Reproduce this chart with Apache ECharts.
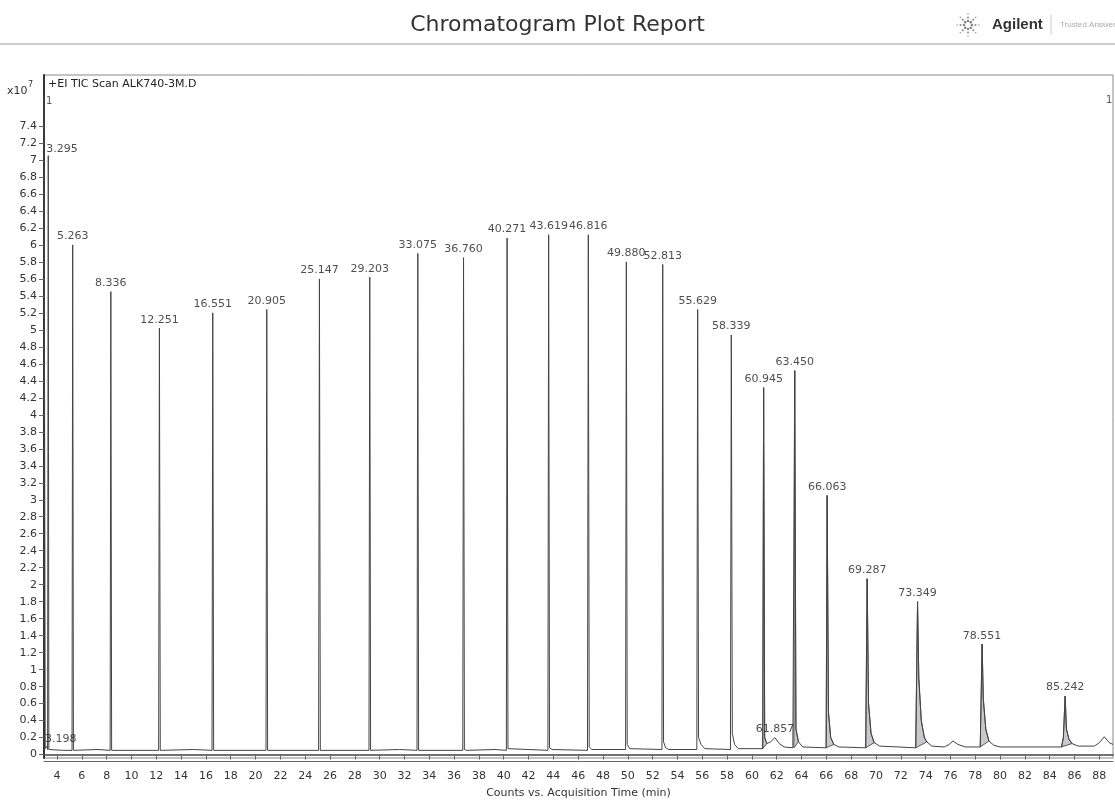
<!DOCTYPE html>
<html>
<head>
<meta charset="utf-8">
<title>Chromatogram Plot Report</title>
<script src="https://cdn.jsdelivr.net/npm/echarts@6/dist/echarts.min.js"></script>
<style>
html,body{margin:0;padding:0;background:#fff;}
#main{width:1115px;height:804px;}
</style>
</head>
<body>
<div id="main"></div>
<script>
// x axis tick labels (min)
var xTicks = [4,6,8,10,12,14,16,18,20,22,24,26,28,30,32,34,36,38,40,42,44,46,48,50,52,54,56,58,60,62,64,66,68,70,72,74,76,78,80,82,84,86,88];
// y axis tick labels (x10^7 counts)
var yTicks = [0,0.2,0.4,0.6,0.8,1,1.2,1.4,1.6,1.8,2,2.2,2.4,2.6,2.8,3,3.2,3.4,3.6,3.8,4,4.2,4.4,4.6,4.8,5,5.2,5.4,5.6,5.8,6,6.2,6.4,6.6,6.8,7,7.2,7.4];

// TIC trace [time, counts x10^7]
var trace = [
    [2.95,7.75],[3.02,7.75],[3.05,0.07],[3.15,0.05],[3.198,0.1],[3.24,0.06],[3.27,0.06],[3.295,7.05],[3.34,0.06],
    [4.5,0.05],[5.21,0.05],[5.263,6.0],[5.32,0.05],
    [7.3,0.06],[8.28,0.05],[8.336,5.45],[8.4,0.05],
    [12.19,0.05],[12.251,5.02],[12.32,0.05],
    [15.0,0.06],[16.49,0.05],[16.551,5.2],[16.62,0.05],
    [20.84,0.05],[20.905,5.24],[20.97,0.05],
    [25.08,0.05],[25.147,5.6],[25.22,0.05],
    [29.14,0.05],[29.203,5.62],[29.27,0.05],
    [31.6,0.06],[33.01,0.05],[33.075,5.9],[33.14,0.05],
    [36.7,0.05],[36.76,5.85],[36.83,0.06],[37.0,0.05],
    [39.3,0.06],[40.21,0.05],[40.271,6.08],[40.34,0.07],[40.5,0.05],
    [43.56,0.05],[43.619,6.12],[43.69,0.08],[43.9,0.06],
    [46.75,0.05],[46.816,6.12],[46.89,0.09],[47.1,0.06],
    [49.82,0.06],[49.88,5.8],[49.95,0.12],[50.15,0.07],
    [52.75,0.06],[52.813,5.77],[52.88,0.15],[53.05,0.08],[53.3,0.06],
    [55.56,0.06],[55.629,5.24],[55.7,0.2],[55.9,0.12],[56.2,0.07],
    [58.27,0.06],[58.339,4.94],[58.42,0.25],[58.6,0.12],[58.9,0.07],
    [60.87,0.07],[60.945,4.32],[61.03,0.2],[61.2,0.13],
    [61.5,0.15],[61.857,0.2],[62.2,0.13],[62.6,0.09],[63.3,0.08],
    [63.38,0.08],[63.45,4.52],[63.55,0.3],[63.75,0.15],[64.1,0.09],
    [65.98,0.08],[66.063,3.05],[66.17,0.5],[66.35,0.2],[66.6,0.12],[67.0,0.09],
    [69.17,0.08],[69.287,2.07],[69.4,0.6],[69.6,0.25],[69.85,0.14],[70.3,0.1],
    [73.2,0.08],[73.349,1.8],[73.45,0.9],[73.65,0.4],[73.9,0.2],[74.1,0.15],[74.5,0.1],
    [75.5,0.09],[75.9,0.12],[76.2,0.16],[76.6,0.12],[77.2,0.09],
    [78.4,0.09],[78.551,1.3],[78.65,0.65],[78.85,0.3],[79.1,0.16],[79.5,0.11],[80.0,0.09],
    [84.95,0.09],[85.1,0.2],[85.242,0.69],[85.35,0.3],[85.55,0.18],[85.8,0.13],[86.3,0.1],
    [87.6,0.1],[88.0,0.14],[88.4,0.21],[88.8,0.14],[89.1,0.12]
];

// labelled peaks
var peakTimes = [3.198,3.295,5.263,8.336,12.251,16.551,20.905,25.147,29.203,33.075,36.760,40.271,43.619,46.816,49.880,52.813,55.629,58.339,60.945,61.857,63.450,66.063,69.287,73.349,78.551,85.242];
var peakHeights = [0.1,7.05,6.0,5.45,5.02,5.2,5.24,5.6,5.62,5.9,5.85,6.08,6.12,6.12,5.8,5.77,5.24,4.94,4.32,0.2,4.52,3.05,2.07,1.8,1.3,0.69];

// integrated (shaded) peak windows [start, end]
var shadedPeaks = [[60.87,61.2],[63.38,63.75],[65.98,66.6],[69.17,69.85],[73.2,74.1],[78.4,79.1],[84.95,85.8]];

var myChart = echarts.init(document.getElementById('main'));

var labelData = peakTimes.map(function (t, i) {
    var item = { value: [t, peakHeights[i]] };
    if (i < 2) {
        item.label = { align: 'left', offset: [-2, 0], distance: 1 };
    }
    return item;
});

var font = 'DejaVu Sans';

// agilent sunburst
var burst = [];
for (var k = 0; k < 8; k++) {
    var a = k * Math.PI / 4;
    [4, 7.5, 11].forEach(function (r, j) {
        burst.push({
            type: 'circle',
            shape: { cx: Math.cos(a) * r, cy: Math.sin(a) * r, r: [1.3, 1.0, 0.7][j] },
            style: { fill: '#8a8a8a' }
        });
    });
}

var option = {
    animation: false,
    backgroundColor: '#fff',
    grid: {
        left: 44,
        right: 2,
        top: 75,
        bottom: 43,
        show: true,
        borderColor: '#888',
        borderWidth: 1
    },
    graphic: [
        { type: 'text', left: 'center', top: 14, style: { text: 'Chromatogram Plot Report', font: '22px "DejaVu Sans"', fill: '#333' } },
        { type: 'line', shape: { x1: 0, y1: 44, x2: 1115, y2: 44 }, style: { stroke: '#9a9a9a', lineWidth: 1 } },
        { type: 'group', x: 968, y: 25, children: burst },
        { type: 'text', x: 992, y: 17, style: { text: 'Agilent', font: 'bold 15px "Liberation Sans"', fill: '#333' } },
        { type: 'line', shape: { x1: 1051, y1: 15, x2: 1051, y2: 35 }, style: { stroke: '#ccc', lineWidth: 1 } },
        { type: 'text', x: 1060, y: 21, style: { text: 'Trusted Answers', font: '8px "Liberation Sans"', fill: '#aaa' } },
        { type: 'text', x: 7, y: 86, style: { text: 'x10', font: '11px "DejaVu Sans"', fill: '#333' } },
        { type: 'text', x: 28, y: 81, style: { text: '7', font: '8px "DejaVu Sans"', fill: '#333' } },
        { type: 'text', x: 48, y: 79, style: { text: '+EI TIC Scan ALK740-3M.D', font: '11px "DejaVu Sans"', fill: '#222' } },
        { type: 'text', x: 46, y: 96, style: { text: '1', font: '10px "DejaVu Sans"', fill: '#555' } },
        { type: 'text', x: 1106, y: 95, style: { text: '1', font: '10px "DejaVu Sans"', fill: '#555' } }
    ],
    xAxis: [{
        type: 'value',
        min: 2.95,
        max: 89.1,
        name: 'Counts vs. Acquisition Time (min)',
        nameLocation: 'middle',
        nameGap: 30,
        nameTextStyle: { color: '#333', fontFamily: font, fontSize: 11 },
        splitLine: { show: false },
        axisLine: { lineStyle: { color: '#444', width: 1.5 } },
        axisTick: { show: true, length: 5, customValues: xTicks, lineStyle: { color: '#666' } },
        axisLabel: {
            customValues: xTicks,
            margin: 13,
            color: '#333',
            fontFamily: font,
            fontSize: 11
        }
    }, {
        type: 'value',
        min: 2.95,
        max: 89.1,
        position: 'bottom',
        offset: 3,
        splitLine: { show: false },
        axisLine: { lineStyle: { color: '#666', width: 1 } },
        axisTick: { show: false },
        axisLabel: { show: false }
    }],
    yAxis: {
        type: 'value',
        min: -0.04,
        max: 8.0,
        splitLine: { show: false },
        axisLine: { show: true, lineStyle: { color: '#333', width: 2 } },
        axisTick: { show: true, length: 5, customValues: yTicks, lineStyle: { color: '#666' } },
        axisLabel: {
            customValues: yTicks,
            margin: 7,
            color: '#333',
            fontFamily: font,
            fontSize: 11,
            formatter: function (v) { return String(v); }
        }
    },
    series: [{
        name: 'area',
        type: 'custom',
        clip: true,
        z: 1,
        encode: { x: [0, 1] },
        renderItem: function (params, api) {
            var win = shadedPeaks[params.dataIndex];
            var pts = trace.filter(function (p) {
                return p[0] >= win[0] && p[0] <= win[1];
            }).map(function (p) { return api.coord(p); });
            return {
                type: 'polygon',
                shape: { points: pts },
                style: { fill: '#c9c9cc', stroke: '#333', lineWidth: 0.8 }
            };
        },
        data: shadedPeaks
    }, {
        name: 'TIC',
        type: 'line',
        z: 2,
        showSymbol: false,
        clip: true,
        lineStyle: { color: '#444', width: 1 },
        data: trace
    }, {
        name: 'peaks',
        type: 'scatter',
        z: 3,
        symbolSize: 0,
        label: {
            show: true,
            position: 'top',
            distance: 3,
            color: '#222',
            fontFamily: font,
            fontSize: 11,
            formatter: function (p) { return p.value[0].toFixed(3); }
        },
        data: labelData
    }]
};

myChart.setOption(option);
</script>
</body>
</html>
